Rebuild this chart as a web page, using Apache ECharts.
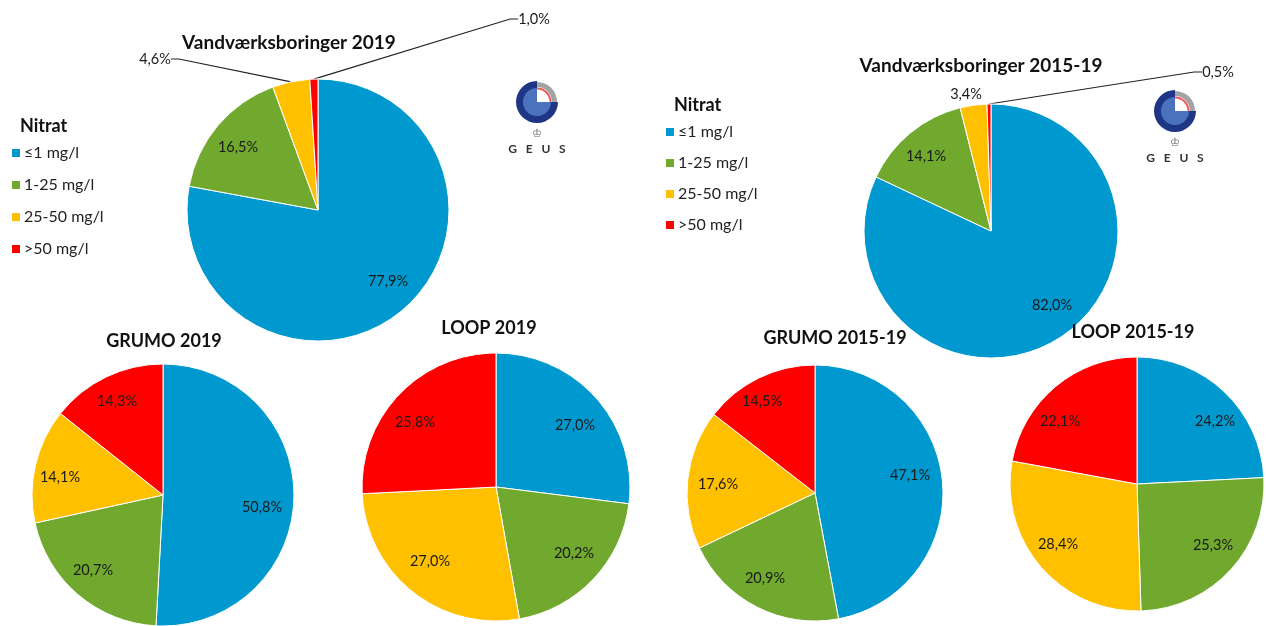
<!DOCTYPE html>
<html>
<head>
<meta charset="utf-8">
<style>
  html, body { margin: 0; padding: 0; background: #fff; }
  #main { width: 1266px; height: 626px; }
</style>
</head>
<body>
<div id="main"></div>
<script src="https://cdn.jsdelivr.net/npm/echarts@6/dist/echarts.min.js"></script>
<script>
  const categories = ['≤1 mg/l', '1-25 mg/l', '25-50 mg/l', '>50 mg/l'];
  const colors = ['#0099cf', '#70a92e', '#ffc000', '#ff0000'];

  const vand2019 = [77.9, 16.5, 4.6, 1.0];
  const vand2015 = [82.0, 14.1, 3.4, 0.5];
  const grumo2019 = [50.8, 20.7, 14.1, 14.3];
  const loop2019 = [27.0, 20.2, 27.0, 25.8];
  const grumo2015 = [47.1, 20.9, 17.6, 14.5];
  const loop2015 = [24.2, 25.3, 28.4, 22.1];

  const font = 'Lato';

  // one entry per pie: where it sits, its title and where the % labels go
  const pies = [
    { name: 'Vandværksboringer 2019', values: vand2019, c: [318, 210], r: 131, t: [289, 43], size: 19,
      labels: [[388, 281], [238, 147], [155, 59], [534, 19]], lines: [2, 3] },
    { name: 'Vandværksboringer 2015-19', values: vand2015, c: [991, 231], r: 127, t: [981, 66], size: 19,
      labels: [[1052, 305], [926, 156], [966, 94], [1218, 72]], lines: [3] },
    { name: 'GRUMO 2019', values: grumo2019, c: [163, 495], r: 131, t: [164, 341], size: 18,
      labels: [[262, 507], [93, 570], [60, 477], [117, 401]], lines: [] },
    { name: 'LOOP 2019', values: loop2019, c: [496, 487], r: 134, t: [489, 328], size: 18,
      labels: [[575, 425], [574, 553], [430, 561], [415, 422]], lines: [] },
    { name: 'GRUMO 2015-19', values: grumo2015, c: [815, 493], r: 128, t: [835, 338], size: 18,
      labels: [[910, 475], [765, 578], [718, 484], [762, 401]], lines: [] },
    { name: 'LOOP 2015-19', values: loop2015, c: [1137, 484], r: 127, t: [1133, 332], size: 18,
      labels: [[1215, 421], [1213, 545], [1058, 544], [1060, 421]], lines: [] }
  ];

  function pct(v) {
    return v.toFixed(1).replace('.', ',') + '%';
  }

  const series = pies.map(function (p) {
    return {
      type: 'pie',
      name: p.name,
      center: p.c,
      radius: p.r,
      startAngle: 90,
      animation: false,
      silent: true,
      avoidLabelOverlap: false,
      itemStyle: { borderColor: '#fff', borderWidth: 1 },
      label: {
        position: 'outside',
        overflow: 'none',
        fontFamily: font,
        fontSize: 14.5,
        color: '#1a1a1a',
        formatter: function (params) { return pct(params.value); }
      },
      labelLine: { show: false, length2: 8, lineStyle: { color: '#222', width: 1.2 } },
      labelLayout: function (params) {
        const at = p.labels[params.dataIndex];
        return { x: at[0], y: at[1], align: 'center', verticalAlign: 'middle' };
      },
      data: categories.map(function (name, i) {
        return {
          name: name,
          value: p.values[i],
          itemStyle: { color: colors[i] },
          labelLine: { show: p.lines.indexOf(i) >= 0 }
        };
      })
    };
  });

  const titles = pies.map(function (p) {
    return {
      text: p.name,
      left: p.t[0],
      top: p.t[1],
      padding: 0,
      textAlign: 'center',
      textVerticalAlign: 'middle',
      textStyle: { fontFamily: font, fontSize: p.size, fontWeight: 'bold', color: '#111' }
    };
  });
  titles.push(
    { text: 'Nitrat', left: 20, top: 117, padding: 0, textStyle: { fontFamily: font, fontSize: 18, fontWeight: 'bold', color: '#111' } },
    { text: 'Nitrat', left: 674, top: 96, padding: 0, textStyle: { fontFamily: font, fontSize: 18, fontWeight: 'bold', color: '#111' } }
  );

  function legend(left, top, gap) {
    return {
      orient: 'vertical',
      left: left,
      top: top,
      padding: 0,
      icon: 'rect',
      itemWidth: 10,
      itemHeight: 10,
      itemGap: gap,
      selectedMode: false,
      data: categories,
      textStyle: { fontFamily: font, fontSize: 16, color: '#222', padding: [0, 0, 0, -2] }
    };
  }

  // GEUS logo, not data
  function logo(x, y) {
    const pi = Math.PI;
    function arc(r0, r, color, a0, a1) {
      return { type: 'sector', silent: true, shape: { cx: x, cy: y, r0: r0, r: r, startAngle: a0, endAngle: a1, clockwise: false }, style: { fill: color } };
    }
    return [
      arc(13, 21, '#1f3585', -pi / 2, 0),
      arc(0, 14, '#4a72bd', -pi / 2, 0),
      { type: 'sector', silent: true, shape: { cx: x, cy: y, r0: 15, r: 20, startAngle: -pi / 2, endAngle: 0, clockwise: true }, style: { fill: '#a3a3a3' } },
      { type: 'sector', silent: true, shape: { cx: x, cy: y, r0: 12.5, r: 14.5, startAngle: -pi / 2, endAngle: 0, clockwise: true }, style: { fill: '#ee5a5a' } },
      { type: 'text', silent: true, style: { x: x, y: y + 32, text: '♔', fontFamily: 'DejaVu Sans', fontSize: 11, fill: '#666', align: 'center', verticalAlign: 'middle' } },
      { type: 'text', silent: true, style: { x: x, y: y + 47, text: 'G   E   U   S', fontFamily: font, fontWeight: 'bold', fontSize: 12, fill: '#333', align: 'center', verticalAlign: 'middle' } }
    ];
  }

  const myChart = echarts.init(document.getElementById('main'));
  myChart.setOption({
    backgroundColor: '#fff',
    color: colors,
    title: titles,
    legend: [legend(10, 145, 16), legend(664, 124, 15)],
    series: series,
    graphic: logo(537, 102).concat(logo(1175, 111))
  });
</script>
</body>
</html>
